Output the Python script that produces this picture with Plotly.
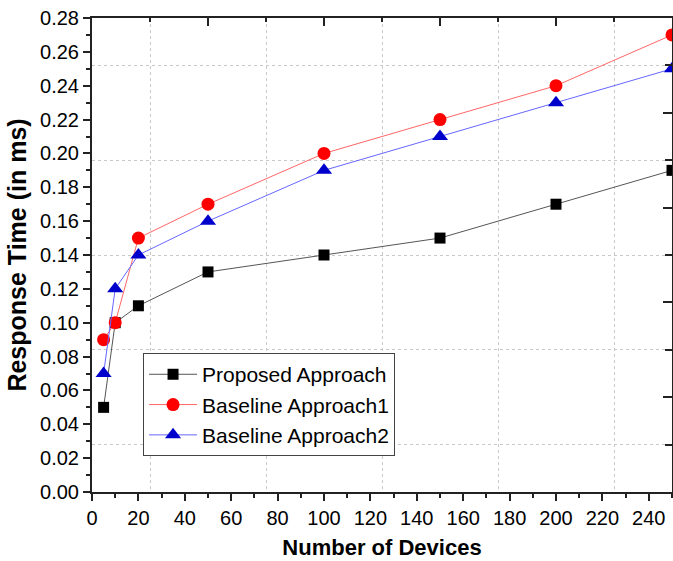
import plotly.graph_objects as go

devices = [5, 10, 20, 50, 100, 150, 200, 250]
proposed = [0.05, 0.10, 0.11, 0.13, 0.14, 0.15, 0.17, 0.19]
baseline1 = [0.09, 0.10, 0.15, 0.17, 0.20, 0.22, 0.24, 0.27]
baseline2 = [0.07, 0.12, 0.14, 0.16, 0.19, 0.21, 0.23, 0.25]

FONT = "Liberation Sans, Arial, sans-serif"

fig = go.Figure()
fig.add_trace(go.Scatter(x=[None], y=[None], xaxis="x2", yaxis="y2",
                         showlegend=False, hoverinfo="skip"))
fig.add_trace(go.Scatter(x=devices, y=proposed, name="Proposed Approach",
                         mode="lines+markers", cliponaxis=False,
                         line=dict(color="#555555", width=1),
                         marker=dict(symbol="square", size=11, color="black")))
fig.add_trace(go.Scatter(x=devices, y=baseline1, name="Baseline Approach1",
                         mode="lines+markers", cliponaxis=False,
                         line=dict(color="#ff6666", width=1),
                         marker=dict(symbol="circle", size=13, color="#ff0000")))
fig.add_trace(go.Scatter(x=devices, y=baseline2, name="Baseline Approach2",
                         mode="lines+markers", cliponaxis=False,
                         line=dict(color="#6666ff", width=1),
                         marker=dict(symbol="triangle-up", size=14, color="#0000cc")))

fig.update_layout(
    width=673, height=561,
    margin=dict(l=92, r=1, t=18, b=69),
    plot_bgcolor="white", paper_bgcolor="white",
    font=dict(family=FONT, color="black", size=20),
    xaxis=dict(range=[0, 250], tickmode="linear", tick0=0, dtick=20,
               ticks="outside", ticklen=7, tickwidth=2, tickcolor="#222",
               showline=True, linecolor="#222", linewidth=2, showgrid=False,
               zeroline=False,
               minor=dict(tickmode="linear", tick0=0, dtick=10, ticks="outside",
                          ticklen=4, tickwidth=2, tickcolor="#222", showgrid=False),
               title=dict(text="<b>Number of Devices</b>", font=dict(size=22),
                          standoff=12),
               tickfont=dict(size=20)),
    yaxis=dict(range=[0, 0.28], tickmode="linear", tick0=0, dtick=0.02,
               tickformat=".2f",
               ticks="outside", ticklen=7, tickwidth=2, tickcolor="#222",
               showline=True, linecolor="#222", linewidth=2, showgrid=False,
               zeroline=False,
               minor=dict(tickmode="linear", tick0=0, dtick=0.01, ticks="outside",
                          ticklen=4, tickwidth=2, tickcolor="#222", showgrid=False),
               title=dict(text="<b>Response Time (in ms)</b>", font=dict(size=25),
                          standoff=6),
               tickfont=dict(size=20)),
    xaxis2=dict(overlaying="x", side="top", range=[0, 250], tickmode="linear",
                tick0=25, dtick=50, ticks="inside", ticklen=4, tickwidth=2,
                tickcolor="#222", showticklabels=False,
                showline=True, linecolor="#222", linewidth=2, zeroline=False,
                showgrid=True, gridcolor="#c8c8c8", griddash="dot", gridwidth=1,
                minor=dict(tickmode="linear", tick0=0, dtick=25, ticks="inside",
                           ticklen=8, tickwidth=2, tickcolor="#222", showgrid=False)),
    yaxis2=dict(overlaying="y", side="right", range=[0, 0.28], tickmode="linear",
                tick0=0.028, dtick=0.056, ticks="inside", ticklen=7, tickwidth=2,
                tickcolor="#222", showticklabels=False,
                showline=True, linecolor="#222", linewidth=2, zeroline=False,
                showgrid=True, gridcolor="#c8c8c8", griddash="dot", gridwidth=1,
                minor=dict(tickmode="linear", tick0=0, dtick=0.028, ticks="inside",
                           ticklen=9, tickwidth=2, tickcolor="#222", showgrid=False)),
    legend=dict(x=0.088, y=0.293, xanchor="left", yanchor="top",
                bgcolor="white", bordercolor="#444", borderwidth=1,
                font=dict(size=21, family=FONT), tracegroupgap=0,
                itemwidth=48),
    showlegend=True,
)

fig.write_html("out.html")
